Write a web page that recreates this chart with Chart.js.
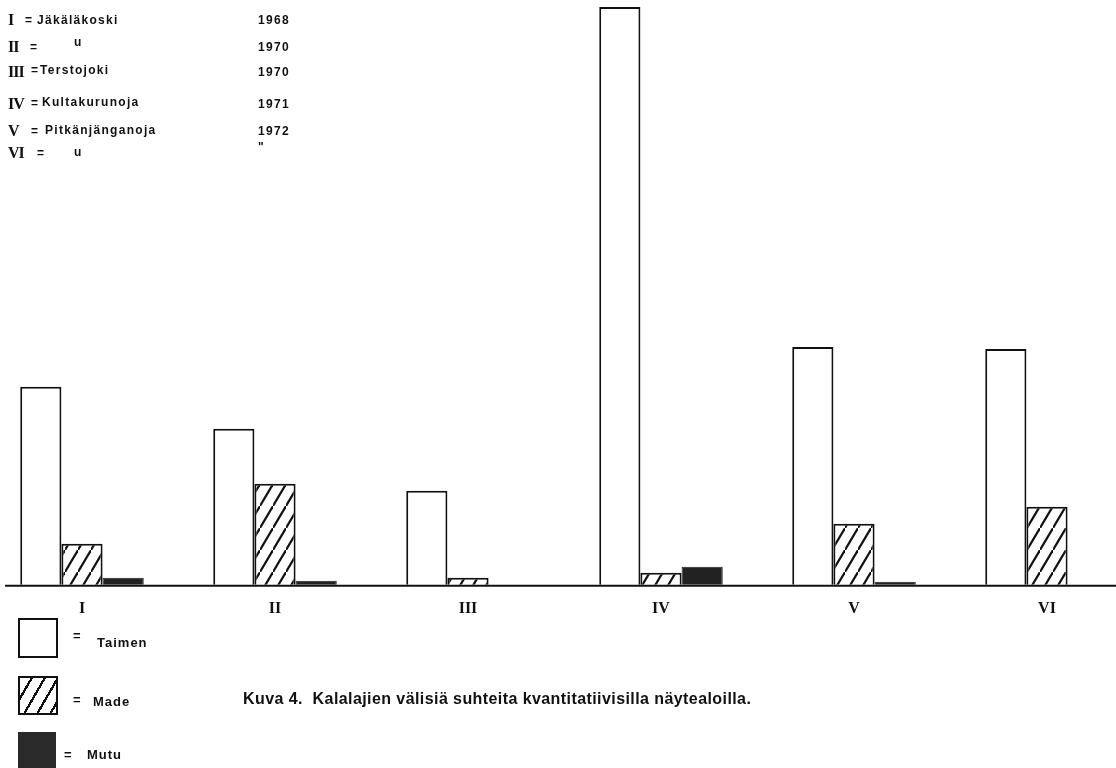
<!DOCTYPE html>
<html>
<head>
<meta charset="utf-8">
<script src="https://cdn.jsdelivr.net/npm/chart.js@4.4.1/dist/chart.umd.min.js"></script>
<style>
  html, body { margin: 0; padding: 0; background: #fff; }
  #wrap { position: relative; width: 1116px; height: 768px; overflow: hidden; background: #fff; }
  #c { position: absolute; left: 0; top: 0; }
  .t { position: absolute; white-space: nowrap; color: #111; font-family: "Liberation Sans", Arial, sans-serif; font-weight: bold; }
  .key { font-size: 12px; letter-spacing: 1.3px; }
  .rn { font-family: "Liberation Serif", "DejaVu Serif", serif; font-size: 16px; font-weight: bold; letter-spacing: -1px; }
  .box { position: absolute; box-sizing: border-box; border: 2px solid #111; }
  .cap { font-size: 16px; letter-spacing: 0.42px; }
  .leg { font-size: 13px; letter-spacing: 1px; }
</style>
</head>
<body>
<div id="wrap">
  <canvas id="c" width="1116" height="768"></canvas>

  <!-- site key, top left -->
  <span class="t rn" style="left:8px;top:11px;">I</span>
  <span class="t key" style="left:25px;top:13px;">=</span>
  <span class="t key" style="left:37px;top:13px;">Jäkäläkoski</span>
  <span class="t key" style="left:258px;top:13px;">1968</span>

  <span class="t rn" style="left:8px;top:38px;">II</span>
  <span class="t key" style="left:30px;top:40px;">=</span>
  <span class="t key" style="left:74px;top:35px;">u</span>
  <span class="t key" style="left:258px;top:40px;">1970</span>

  <span class="t rn" style="left:8px;top:63px;">III</span>
  <span class="t key" style="left:31px;top:63px;">=</span>
  <span class="t key" style="left:40px;top:63px;">Terstojoki</span>
  <span class="t key" style="left:258px;top:65px;">1970</span>

  <span class="t rn" style="left:8px;top:95px;">IV</span>
  <span class="t key" style="left:31px;top:96px;">=</span>
  <span class="t key" style="left:42px;top:95px;">Kultakurunoja</span>
  <span class="t key" style="left:258px;top:97px;">1971</span>

  <span class="t rn" style="left:8px;top:122px;">V</span>
  <span class="t key" style="left:31px;top:124px;">=</span>
  <span class="t key" style="left:45px;top:123px;">Pitkänjänganoja</span>
  <span class="t key" style="left:258px;top:124px;">1972</span>

  <span class="t rn" style="left:8px;top:144px;">VI</span>
  <span class="t key" style="left:37px;top:146px;">=</span>
  <span class="t key" style="left:74px;top:145px;">u</span>
  <span class="t key" style="left:258px;top:140px;">"</span>

  <!-- species legend, bottom left -->
  <div class="box" style="left:18px;top:618px;width:40px;height:40px;background:#fff;"></div>
  <span class="t leg" style="left:73px;top:628px;">=</span>
  <span class="t leg" style="left:97px;top:635px;">Taimen</span>

  <div class="box" style="left:18px;top:676px;width:40px;height:39px;background:repeating-linear-gradient(120deg,#fff 0 9px,#111 9px 11.3px);"></div>
  <span class="t leg" style="left:73px;top:692px;">=</span>
  <span class="t leg" style="left:93px;top:694px;">Made</span>

  <div class="box" style="left:18px;top:732px;width:38px;height:40px;background:#2a2a2a;border-color:#2a2a2a;"></div>
  <span class="t leg" style="left:64px;top:747px;">=</span>
  <span class="t leg" style="left:87px;top:747px;">Mutu</span>

  <span class="t cap" style="left:243px;top:690px;">Kuva 4.&nbsp; Kalalajien välisiä suhteita kvantitatiivisilla näytealoilla.</span>
</div>

<script>
// ---- data ----
const categories = ["I", "II", "III", "IV", "V", "VI"];
const taimen = [198, 156, 94, 578, 238, 236];
const made   = [41, 101, 7, 12, 61, 78];
const mutu   = [7, 4, 0, 18, 3, 0];
const seriesNames = ["Taimen", "Made", "Mutu"];
const yMax = 585;

// hatch pattern for "Made"
function hatch() {
  const w = 13, h = 22;
  const p = document.createElement('canvas');
  p.width = w; p.height = h;
  const g = p.getContext('2d');
  g.fillStyle = '#fff';
  g.fillRect(0, 0, w, h);
  g.strokeStyle = '#111';
  g.lineWidth = 2.2;
  g.beginPath();
  g.moveTo(-w, 2 * h);
  g.lineTo(2 * w, -h);
  g.stroke();
  return g.createPattern(p, 'repeat');
}

const baseline = {
  id: 'baseline',
  afterDatasetsDraw(chart) {
    const y = chart.scales.y.getPixelForValue(0);
    const ctx = chart.ctx;
    ctx.save();
    ctx.strokeStyle = '#111';
    ctx.lineWidth = 2;
    ctx.beginPath();
    ctx.moveTo(5, y + 1);
    ctx.lineTo(chart.width, y + 1);
    ctx.stroke();
    ctx.restore();
  }
};

new Chart(document.getElementById('c'), {
  type: 'bar',
  data: {
    labels: categories,
    datasets: [
      { label: seriesNames[0], data: taimen, backgroundColor: '#fff', borderColor: '#111', borderWidth: 2, clip: false },
      { label: seriesNames[1], data: made, backgroundColor: hatch(), borderColor: '#111', borderWidth: 2, clip: false },
      { label: seriesNames[2], data: mutu, backgroundColor: '#222', borderColor: '#222', borderWidth: 1, clip: false }
    ]
  },
  options: {
    responsive: false,
    animation: false,
    devicePixelRatio: 1,
    layout: { padding: { left: 82, right: 69, top: 0, bottom: 136 } },
    categoryPercentage: 0.64,
    barPercentage: 1,
    plugins: { legend: { display: false }, tooltip: { enabled: false } },
    scales: {
      x: {
        offset: false,
        grid: { display: false, drawTicks: false },
        border: { display: false },
        ticks: {
          padding: 14,
          maxRotation: 0,
          autoSkip: false,
          color: '#111',
          font: { family: '"Liberation Serif", serif', weight: 'bold', size: 16 }
        }
      },
      y: { display: false, min: 0, max: yMax }
    }
  },
  plugins: [baseline]
});
</script>
</body>
</html>
